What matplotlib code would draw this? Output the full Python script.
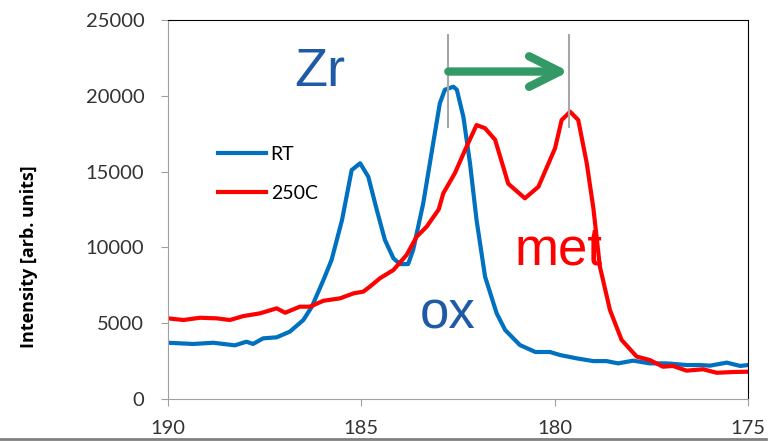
import matplotlib
matplotlib.use("Agg")
import matplotlib.pyplot as plt
from matplotlib.lines import Line2D

# binding energy (eV) and intensity
rt_x = [190, 189.35, 188.83, 188.27, 187.97, 187.8, 187.54, 187.19, 186.85, 186.5,
        186.28, 185.98, 185.77, 185.5, 185.25, 185.03, 184.82, 184.6, 184.39, 184.17,
        184.0, 183.79, 183.66, 183.4, 183.14, 182.97, 182.84, 182.62, 182.53, 182.36,
        182.19, 182.02, 181.8, 181.5, 181.28, 180.9, 180.5, 180.12, 179.86, 179.43,
        179.0, 178.66, 178.36, 177.97, 177.54, 177.1, 176.59, 176.24, 175.98, 175.55,
        175.2, 175.0]
rt_y = [3710, 3630, 3710, 3540, 3780, 3630, 4000, 4070, 4440, 5210,
        6090, 7850, 9170, 11800, 15100, 15550, 14660, 12470, 10490, 9280,
        8900, 8900, 9830, 12900, 16900, 19500, 20400, 20600, 20400, 18600,
        15550, 11800, 8070, 5650, 4550, 3560, 3100, 3100, 2900, 2680,
        2500, 2500, 2350, 2530, 2350, 2350, 2240, 2240, 2200, 2400,
        2180, 2240]

hot_x = [190, 189.6, 189.17, 188.74, 188.4, 188.05, 187.62, 187.19, 186.97, 186.59,
         186.33, 185.98, 185.55, 185.2, 184.95, 184.78, 184.52, 184.17, 183.83, 183.57,
         183.31, 183.0, 182.88, 182.58, 182.28, 182.02, 181.8, 181.54, 181.2, 180.77,
         180.42, 179.99, 179.82, 179.6, 179.39, 179.17, 179.0, 178.83, 178.57, 178.27,
         177.88, 177.54, 177.2, 176.94, 176.59, 176.16, 175.81, 175.38, 175.0]
hot_y = [5320, 5210, 5360, 5320, 5210, 5470, 5650, 5980, 5690, 6090,
         6090, 6480, 6640, 6970, 7080, 7410, 7960, 8510, 9500, 10700,
         11370, 12500, 13570, 14900, 16640, 18070, 17860, 17100, 14200, 13240,
         14000, 16540, 18400, 18950, 18400, 15550, 12600, 8730, 5870, 3900,
         2800, 2570, 2130, 2180, 1870, 1960, 1730, 1780, 1800]

ox_peak = 182.75
met_peak = 179.63

fig = plt.figure(figsize=(7.77, 4.41), dpi=100)
ax = fig.add_axes([168 / 777, 42 / 441, 580 / 777, 379 / 441])

ax.plot(rt_x, rt_y, color="#0070C0", lw=3, label="RT")
ax.plot(hot_x, hot_y, color="#FF0000", lw=3, label="250C")

ax.set_xlim(190, 175)
ax.set_ylim(0, 25000)
ax.set_xticks([190, 185, 180, 175])
ax.set_yticks(range(0, 25001, 5000))

# peak markers and shift arrow
ax.vlines([ox_peak, met_peak], 17900, 24100, color="#A6A6A6", lw=1.5)
ax.annotate("", xy=(met_peak, 21600), xytext=(ox_peak, 21600),
            arrowprops=dict(arrowstyle="->,head_length=1.1,head_width=0.55",
                            color="#339966", lw=6, shrinkA=0, shrinkB=0,
                            mutation_scale=20, capstyle="round", joinstyle="round"))

ax.text(186.07, 21600, "Zr", color="#1F5AA6", fontsize=39, family="Liberation Sans",
        ha="center", va="center")
ax.text(182.77, 5600, "ox", color="#1F5AA6", fontsize=38, family="Liberation Sans",
        ha="center", va="center")
ax.text(179.89, 9800, "met", color="#FF0000", fontsize=38, family="Liberation Sans",
        ha="center", va="center")

ax.legend(loc="upper left", bbox_to_anchor=(0.056, 0.715), frameon=False,
          prop={"family": "Lato", "size": 14}, handlelength=2.45, handletextpad=0.26,
          labelspacing=1.15)

ax.set_ylabel("Intensity [arb. units]", fontsize=13, fontweight="bold",
              family="Open Sans")
ax.yaxis.set_label_coords(-0.224, 0.375)

for s in ["left", "bottom"]:
    ax.spines[s].set_color("#A0A0A0")
for s in ["top", "right"]:
    ax.spines[s].set_color("black")
ax.tick_params(axis="both", colors="#A0A0A0", labelcolor="#333333", length=5,
               labelsize=14.5)
for lab in ax.get_xticklabels() + ax.get_yticklabels():
    lab.set_family("Lato")
ax.tick_params(axis="x", pad=10)
ax.tick_params(axis="y", pad=12)

fig.add_artist(Line2D([0, 766 / 777], [2 / 441, 2 / 441], color="#808080", lw=2,
                      transform=fig.transFigure))

fig.savefig("out.png", dpi=100)
